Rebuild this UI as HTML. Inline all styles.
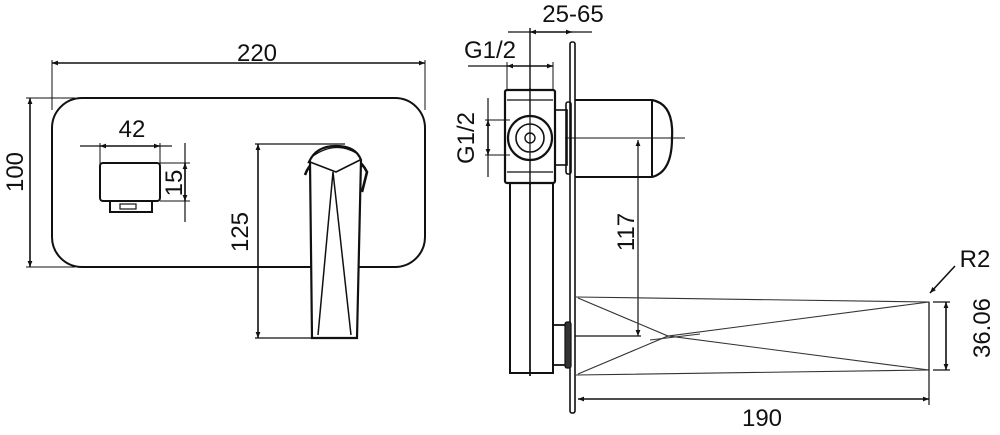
<!DOCTYPE html>
<html><head><style>
html,body{margin:0;padding:0;background:#fff;width:1000px;height:435px;overflow:hidden}
svg text{font-family:"Liberation Sans",sans-serif;font-size:24px;fill:#111}
</style></head><body>
<svg width="1000" height="435" viewBox="0 0 1000 435" xmlns="http://www.w3.org/2000/svg">
<defs>
<marker id="a" viewBox="0 0 10 10" refX="10" refY="5" markerWidth="9" markerHeight="6" orient="auto-start-reverse" markerUnits="userSpaceOnUse"><path d="M0,1 L10,5 L0,9 z" fill="#111"/></marker>
</defs>
<g stroke="#111" fill="none" stroke-width="1.6">
<line x1="52" y1="63" x2="425" y2="63" marker-start="url(#a)" marker-end="url(#a)"/>
<line x1="52" y1="60" x2="52" y2="110" stroke-width="1"/>
<line x1="425" y1="60" x2="425" y2="110" stroke-width="1"/>
<rect x="52" y="98" width="373" height="169" rx="30" stroke-width="2"/>
<line x1="30" y1="98" x2="30" y2="267" marker-start="url(#a)" marker-end="url(#a)"/>
<line x1="26" y1="98" x2="75" y2="98" stroke-width="1"/>
<line x1="26" y1="267" x2="75" y2="267" stroke-width="1"/>
<line x1="80" y1="146" x2="100" y2="146" stroke-width="1.2"/>
<line x1="100" y1="146" x2="160" y2="146" marker-start="url(#a)" marker-end="url(#a)"/>
<line x1="160" y1="146" x2="172" y2="146" stroke-width="1.2"/>
<line x1="100" y1="143" x2="100" y2="165" stroke-width="1"/>
<line x1="160" y1="143" x2="160" y2="165" stroke-width="1"/>
<rect x="100" y="163" width="60" height="38" rx="3" stroke-width="2"/>
<path d="M110 201 V212 H152 V201" stroke-width="2"/>
<rect x="120" y="204" width="16" height="5" stroke-width="1.2"/>
<line x1="185" y1="143" x2="185" y2="222" stroke-width="1.2"/>
<line x1="185" y1="163" x2="185" y2="201" marker-start="url(#a)" marker-end="url(#a)"/>
<line x1="160" y1="163" x2="190" y2="163" stroke-width="1"/>
<line x1="160" y1="201" x2="190" y2="201" stroke-width="1"/>
<line x1="255" y1="144" x2="345" y2="144" stroke-width="1.2"/>
<line x1="255" y1="338" x2="312" y2="338" stroke-width="1.2"/>
<line x1="258" y1="144" x2="258" y2="338" marker-start="url(#a)" marker-end="url(#a)"/>
<path d="M305 175 A33 30 0 0 1 367 172 L362 192" stroke-width="2.6"/>
<path d="M309 162 Q316 146 336 146 Q356 146 361 160 L357 338 H312 L310 162 Z" fill="#fff" stroke-width="2.2"/>
<path d="M310 162 L336 172 L360 160" stroke-width="1.6"/>
<path d="M318 335 L333 172 L351 335" stroke-width="1.5"/>
<path d="M313 156 Q336 140 358 154" stroke-width="1.2"/>
<line x1="508" y1="32" x2="530" y2="32" stroke-width="1.2"/>
<line x1="530" y1="32" x2="572" y2="32" marker-start="url(#a)" marker-end="url(#a)"/>
<line x1="572" y1="32" x2="592" y2="32" stroke-width="1.2"/>
<line x1="530" y1="28" x2="530" y2="376" stroke-width="1.4"/>
<rect x="570" y="42" width="5" height="371" rx="2" fill="#fff" stroke-width="1.6"/>
<line x1="468" y1="66" x2="507" y2="66" stroke-width="1.2"/>
<line x1="507" y1="66" x2="553" y2="66" marker-start="url(#a)" marker-end="url(#a)"/>
<line x1="507" y1="62" x2="507" y2="92" stroke-width="1"/>
<line x1="553" y1="62" x2="553" y2="92" stroke-width="1"/>
<rect x="505" y="90" width="50" height="93" rx="2" fill="#fff" stroke-width="2.2"/>
<line x1="507" y1="100" x2="553" y2="100" stroke-width="1.2"/>
<line x1="507" y1="172" x2="553" y2="172" stroke-width="1.2"/>
<line x1="530" y1="88" x2="530" y2="185" stroke-width="1.4"/>
<circle cx="530" cy="138" r="22" fill="#fff" stroke-width="2.2"/>
<circle cx="530" cy="138" r="14" stroke-width="1.6"/>
<circle cx="530" cy="138" r="5" stroke-width="1.4"/>
<line x1="530" y1="116" x2="530" y2="160" stroke-width="1.2"/>
<rect x="555" y="110" width="12" height="55" stroke-width="1.6"/>
<rect x="566" y="102" width="5" height="72" rx="2" stroke-width="1.6"/>
<rect x="510" y="183" width="43" height="190" stroke-width="2"/>
<line x1="530" y1="183" x2="530" y2="376" stroke-width="1.6"/>
<rect x="553" y="325" width="13" height="40" stroke-width="1.8"/>
<rect x="565" y="322" width="6" height="46" rx="2" fill="#333" stroke-width="1.2"/>
<line x1="488" y1="98" x2="488" y2="120" stroke-width="1.2"/>
<line x1="488" y1="120" x2="488" y2="155" marker-start="url(#a)" marker-end="url(#a)"/>
<line x1="488" y1="155" x2="488" y2="177" stroke-width="1.2"/>
<line x1="485" y1="120" x2="510" y2="120" stroke-width="1"/>
<line x1="485" y1="155" x2="510" y2="155" stroke-width="1"/>
<path d="M575 100 H652 M575 177 H652" stroke-width="2"/>
<line x1="652" y1="100" x2="652" y2="177" stroke-width="2"/>
<path d="M652 100 Q674 104 672 138 Q672 172 652 177" stroke-width="2.2"/>
<line x1="565" y1="138" x2="685" y2="138" stroke-width="1"/>
<line x1="638" y1="140" x2="638" y2="336" marker-start="url(#a)" marker-end="url(#a)" stroke-width="1.2"/>
<line x1="575" y1="336" x2="641" y2="336" stroke-width="1.2"/>
<g stroke-width="1.1" stroke="#333">
<path d="M576 297 L929 302 L929 370 L576 375"/>
<path d="M578 298 L668 336 L929 302"/>
<path d="M578 374 L668 336 L929 370"/>
<path d="M650 340 L700 334"/>
</g>
<line x1="929" y1="302" x2="929" y2="405" stroke-width="1.2"/>
<line x1="578" y1="399" x2="929" y2="399" marker-start="url(#a)" marker-end="url(#a)" stroke-width="1.4"/>
<line x1="946" y1="302" x2="946" y2="370" marker-start="url(#a)" marker-end="url(#a)" stroke-width="1.6"/>
<line x1="933" y1="302" x2="950" y2="302" stroke-width="1.2"/>
<line x1="933" y1="370" x2="950" y2="370" stroke-width="1.2"/>
<line x1="955" y1="266" x2="930" y2="293" marker-end="url(#a)" stroke-width="1.6"/>
</g>
<text x="257" y="61" text-anchor="middle">220</text>
<text x="132" y="137" text-anchor="middle">42</text>
<text transform="translate(23,172) rotate(-90)" text-anchor="middle">100</text>
<text transform="translate(182,183) rotate(-90)" text-anchor="middle">15</text>
<text transform="translate(248,232) rotate(-90)" text-anchor="middle">125</text>
<text x="573" y="22" text-anchor="middle">25-65</text>
<text x="490" y="58" text-anchor="middle">G1/2</text>
<text transform="translate(474,138) rotate(-90)" text-anchor="middle">G1/2</text>
<text transform="translate(634,232) rotate(-90)" text-anchor="middle">117</text>
<text x="762" y="426" text-anchor="middle">190</text>
<text transform="translate(990,328) rotate(-90)" text-anchor="middle">36.06</text>
<text x="975" y="267" text-anchor="middle">R2</text>
</svg>
</body></html>
